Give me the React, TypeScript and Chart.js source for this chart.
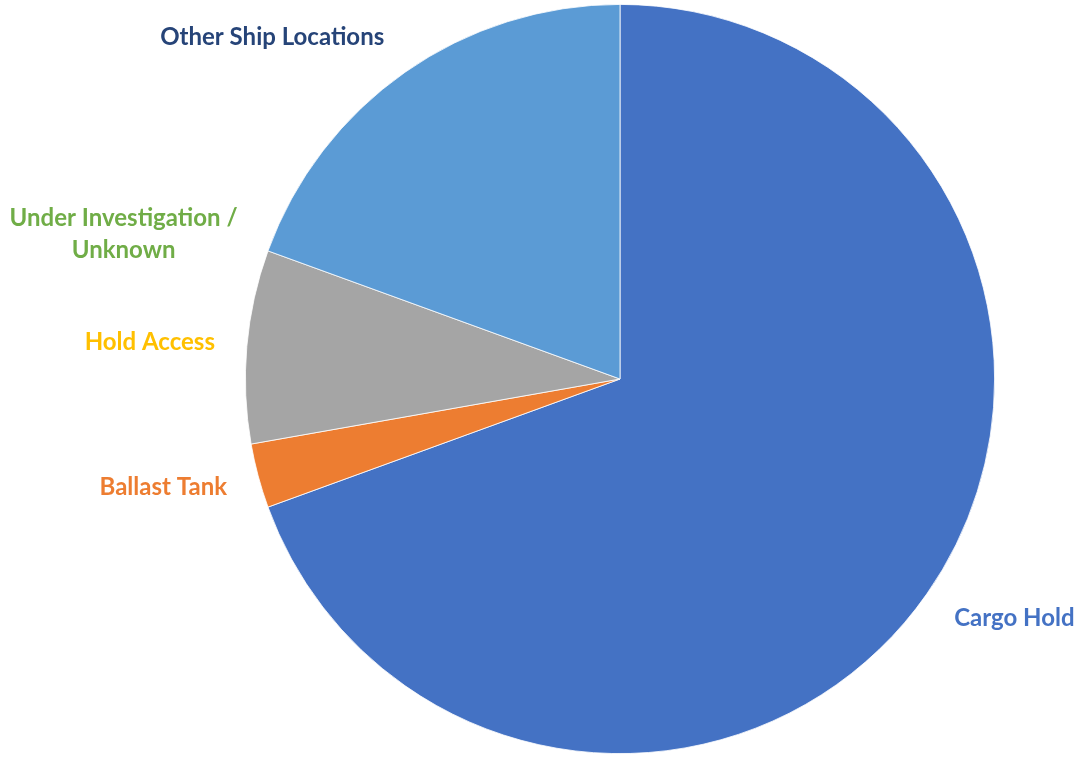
import React, { useEffect, useRef } from "react";
import { Chart, registerables } from "chart.js";

Chart.register(...registerables);

const categories: string[][] = [
  ["Cargo Hold"],
  ["Ballast Tank"],
  ["Hold Access"],
  ["Under Investigation /", "Unknown"],
  ["Other Ship Locations"],
];
const values: number[] = [25, 1, 3, 0, 7];
const sliceColors: string[] = ["#4472C4", "#ED7D31", "#A5A5A5", "#FFC000", "#5B9BD5"];
const labelColors: string[] = ["#4472C4", "#ED7D31", "#FFC000", "#70AD47", "#264478"];

const FONT = "bold 24px Lato";
const LINE_H = 32;

const outsideLabels = {
  id: "outsideLabels",
  afterDatasetsDraw(chart: any) {
    const ctx = chart.ctx;
    const meta = chart.getDatasetMeta(0);
    ctx.save();
    ctx.font = FONT;
    ctx.textBaseline = "middle";
    meta.data.forEach((arc: any, i: number) => {
      const p = arc.getProps(["x", "y", "startAngle", "endAngle", "outerRadius"], true);
      const mid = (p.startAngle + p.endAngle) / 2;
      const ux = Math.cos(mid);
      const uy = Math.sin(mid);
      const rr = p.outerRadius + 26;
      const ax = p.x + ux * rr;
      const ay = p.y + uy * rr;
      const lines = categories[i];
      const w = Math.max(...lines.map((l) => ctx.measureText(l).width));
      const h = 32 + (lines.length - 1) * 16;
      let left: number;
      if (ux > 0.1) left = ax + 6;
      else if (ux < -0.1) left = ax - 6 - w;
      else left = ax - w / 2;
      const cy = ay + (uy * h) / 2;
      ctx.fillStyle = labelColors[i];
      ctx.textAlign = "center";
      const firstY = cy - ((lines.length - 1) * LINE_H) / 2;
      lines.forEach((l, j) => {
        ctx.fillText(l, left + w / 2, firstY + j * LINE_H);
      });
    });
    ctx.restore();
  },
};

export default function App() {
  const ref = useRef<HTMLCanvasElement>(null);
  useEffect(() => {
    document.body.style.margin = "0";
    const chart = new Chart(ref.current!, {
      type: "pie",
      data: {
        labels: categories.map((c) => c.join(" ")),
        datasets: [
          {
            data: values,
            backgroundColor: sliceColors,
            borderColor: "#ffffff",
            borderWidth: 0.8,
          },
        ],
      },
      options: {
        animation: false,
        responsive: false,
        layout: { padding: { left: 245, right: 79, top: 3, bottom: 3 } },
        plugins: {
          legend: { display: false },
          tooltip: { enabled: false },
        },
      },
      plugins: [outsideLabels],
    });
    return () => chart.destroy();
  }, []);
  return (
    <div style={{ width: 1074, height: 758, background: "#fff" }}>
      <canvas ref={ref} width={1074} height={758} style={{ display: "block" }} />
    </div>
  );
}
